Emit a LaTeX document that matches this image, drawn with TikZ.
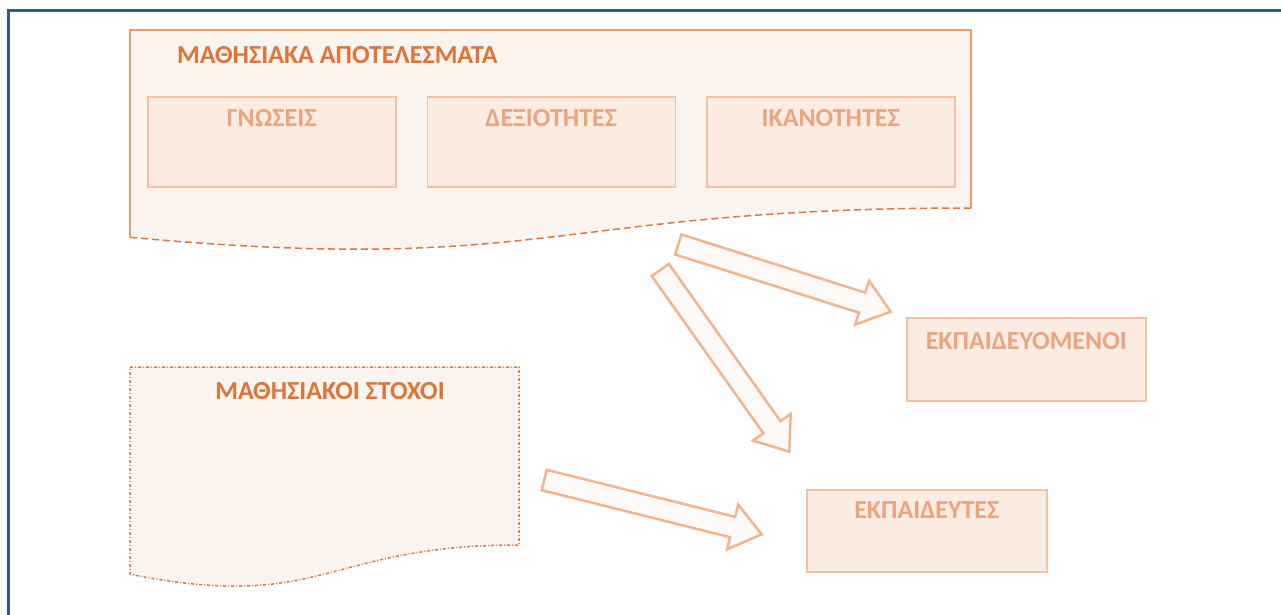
\documentclass[tikz,border=0pt]{standalone}
\usepackage{fontspec}
\setmainfont{Carlito}
\usetikzlibrary{calc,positioning}

\definecolor{frameblue}{HTML}{2F5B8C}
\definecolor{docfill}{HTML}{FCF4EF}
\definecolor{docline}{HTML}{EE9C6C}
\definecolor{docdash}{HTML}{E2773A}
\definecolor{titletxt}{HTML}{E07436}
\definecolor{boxfill}{HTML}{FAEBE3}
\definecolor{boxline}{HTML}{F3C2A4}
\definecolor{boxtxt}{HTML}{ECA47F}
\definecolor{arrfill}{HTML}{FDF9F6}
\definecolor{arrline}{HTML}{F2B48C}

\tikzset{
  partbox/.style={draw=boxline, fill=boxfill, line width=1.5pt, minimum width=248pt, minimum height=90pt, inner sep=0pt},
  parttext/.style={text=boxtxt, font=\fontsize{26}{30}\selectfont\bfseries, inner sep=0pt},
  headtext/.style={text=titletxt, font=\fontsize{26}{30}\selectfont\bfseries, inner sep=0pt},
  bigarrow/.style={draw=arrline, fill=arrfill, line width=2.5pt, line join=miter}
}

% block arrow from a tail point to a tip point
\newcommand{\blockarrow}[2]{%
  \draw[bigarrow] ($(#1)!10.5pt!-90:(#2)$) -- ($(#2)!30pt!(#1)!10.5pt!90:(#1)$)
    -- ($(#2)!30pt!(#1)!23pt!90:(#1)$) -- (#2) -- ($(#2)!30pt!(#1)!23pt!-90:(#1)$)
    -- ($(#2)!30pt!(#1)!10.5pt!-90:(#1)$) -- ($(#1)!10.5pt!90:(#2)$) -- cycle;}

\begin{document}
\begin{tikzpicture}[x=1pt,y=-1pt]
  \useasboundingbox (0,0) rectangle (1281,614);
  \clip (0,0) rectangle (1281,614);
  \draw[frameblue, line width=3pt] (8,10.5) rectangle (1330,680);

  % learning outcomes
  \fill[docfill] (130,30) -- (971,30) -- (971,208) .. controls (550.5,208) and (550.5,275.9) .. (130,237.3) -- cycle;
  \draw[docline, line width=1.5pt] (971,208) -- (971,30) -- (130,30) -- (130,237.3);
  \draw[docdash, line width=1.5pt, dash pattern=on 7pt off 4pt] (971,208) .. controls (550.5,208) and (550.5,275.9) .. (130,237.3);
  \node[headtext, anchor=base west] (outtitle) at (177,63) {ΜΑΘΗΣΙΑΚΑ ΑΠΟΤΕΛΕΣΜΑΤΑ};

  \node[partbox, anchor=north west] (know) at (147,96) {};
  \node[partbox, right=30pt of know] (skill) {};
  \node[partbox, right=30pt of skill] (compet) {};
  \node[parttext, anchor=base] (knowt) at ($(know.north)+(0,30)$) {ΓΝΩΣΕΙΣ};
  \node[parttext, anchor=base] (skillt) at ($(skill.north)+(0,30)$) {ΔΕΞΙΟΤΗΤΕΣ};
  \node[parttext, anchor=base] (compett) at ($(compet.north)+(0,30)$) {ΙΚΑΝΟΤΗΤΕΣ};

  % learning goals
  \filldraw[fill=docfill, draw=docdash, line width=1.5pt, dash pattern=on 3pt off 2pt on 1pt off 2pt]
    (130,367) -- (519,367) -- (519,545) .. controls (324.5,545) and (324.5,612.9) .. (130,574.3) -- cycle;
  \node[headtext, anchor=base] (goaltitle) at (330,399) {ΜΑΘΗΣΙΑΚΟΙ ΣΤΟΧΟΙ};

  % learners and teachers
  \node[partbox, minimum width=239pt, minimum height=83pt, anchor=north west] (learn) at (906,317) {};
  \node[parttext, anchor=base] (learnt) at ($(learn.north)+(0,32)$) {ΕΚΠΑΙΔΕΥΟΜΕΝΟΙ};
  \node[partbox, minimum width=240pt, minimum height=82pt, anchor=north west] (teach) at (806,489) {};
  \node[parttext, anchor=base] (teacht) at ($(teach.north)+(0,29)$) {ΕΚΠΑΙΔΕΥΤΕΣ};

  \coordinate (a1s) at (678.3,244.5);
  \coordinate (a1e) at (890.7,311.7);
  \coordinate (a2s) at (660.3,270);
  \coordinate (a2e) at (789.3,451.7);
  \coordinate (a3s) at (544.2,480);
  \coordinate (a3e) at (761.7,534.3);
  \blockarrow{a1s}{a1e}
  \blockarrow{a2s}{a2e}
  \blockarrow{a3s}{a3e}
\end{tikzpicture}
\end{document}
